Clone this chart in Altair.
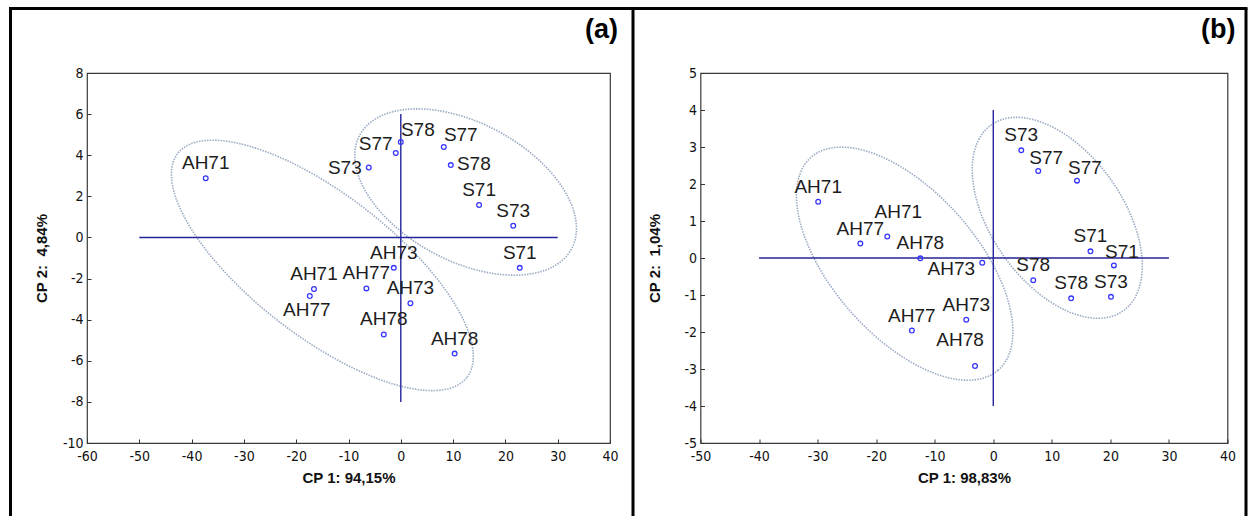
import altair as alt
import numpy as np
import pandas as pd

# ---------------- data: panel (a) ----------------
a_labels = ["AH71", "S78", "S77", "S73", "S77", "S78", "S71", "S73", "S71",
            "AH73", "AH77", "AH71", "AH77", "AH73", "AH78", "AH78"]
a_x = [-37.3, 0.0, -0.96, -6.12, 8.22, 9.56, 14.97, 21.5, 22.75,
       -1.34, -6.58, -16.6, -17.4, 1.84, -3.25, 10.3]
a_y = [2.88, 4.64, 4.11, 3.40, 4.40, 3.52, 1.58, 0.57, -1.48,
       -1.48, -2.48, -2.51, -2.85, -3.20, -4.72, -5.65]
a_pos = ["t", "tr2", "tl", "l", "tr2", "r", "t", "t", "t",
         "t", "t", "t", "b", "t", "t", "t"]

# confidence ellipses (a): centre and two conjugate half-axes (data units)
a_ell_cx = [-15.0, 12.39]
a_ell_cy = [-1.36, 2.21]
a_ell_ux = [27.6, 20.2]
a_ell_uy = [-5.46, -2.79]
a_ell_vx = [-8.45, -6.41]
a_ell_vy = [-2.70, -2.93]

# centre cross (a)
a_hx = [-50, 30]
a_vy = [-8, 6]

# ---------------- data: panel (b) ----------------
b_labels = ["AH71", "AH71", "AH77", "AH78", "AH73", "AH73", "AH77", "AH78",
            "S73", "S77", "S77", "S71", "S71", "S78", "S78", "S73"]
b_x = [-29.9, -18.1, -22.7, -12.46, -1.88, -4.61, -13.9, -3.12,
       4.78, 7.68, 14.3, 16.6, 20.6, 6.83, 13.3, 20.1]
b_y = [1.52, 0.58, 0.39, -0.01, -0.13, -1.67, -1.96, -2.92,
       2.91, 2.35, 2.09, 0.18, -0.20, -0.60, -1.09, -1.05]
b_pos = ["t", "tr3", "t", "t", "l2", "t", "t", "tl2",
         "t", "tr", "tr", "t", "tr", "t", "t", "t"]

b_ell_cx = [-15.13, 10.93]
b_ell_cy = [-0.153, 1.086]
b_ell_ux = [15.95, 11.2]
b_ell_uy = [-2.88, -2.52]
b_ell_vx = [-9.34, -9.24]
b_ell_vy = [-1.276, -1.013]

b_hx = [-40, 30]
b_vy = [-4, 4]

# axes
a_xticks = list(range(-60, 41, 10))
a_yticks = list(range(-10, 9, 2))
b_xticks = list(range(-50, 41, 10))
b_yticks = list(range(-5, 6, 1))
a_xtitle = "CP 1: 94,15%"
a_ytitle = "CP 2:\u00a0 4,84%"
b_xtitle = "CP 1: 98,83%"
b_ytitle = "CP 2:\u00a0 1,04%"

# ---------------- styling ----------------
LABEL_OFFSETS = {
    "t": (0, -15), "tr": (8, -13), "tr2": (17, -12), "tr3": (11, -25),
    "tl": (-20, -9), "tl2": (-15, -26), "l": (-24, 0), "l2": (-31, 6),
    "r": (23, -1), "b": (-3, 14),
}
TICK_FONT = "DejaVu Sans Condensed, Liberation Sans Narrow, Arial Narrow, sans-serif"
FONT = "Liberation Sans"
H = 370
LABEL_EXPR = "datum.value < 0 ? '-' + abs(datum.value) : '' + datum.value"


def ellipse_df(cx, cy, ux, uy, vx, vy):
    t = np.linspace(0, 2 * np.pi, 241)
    parts = []
    for i in range(len(cx)):
        parts.append(pd.DataFrame({
            "x": cx[i] + ux[i] * np.cos(t) + vx[i] * np.sin(t),
            "y": cy[i] + uy[i] * np.cos(t) + vy[i] * np.sin(t),
            "e": i, "o": np.arange(len(t))}))
    return pd.concat(parts, ignore_index=True)


def panel(tag, W, labels, xs, ys, pos, ell, hx, vy, xdom, ydom,
          xticks, yticks, xtitle, ytitle, frame=False):
    xsc = alt.Scale(domain=xdom, nice=False, zero=False)
    ysc = alt.Scale(domain=ydom, nice=False, zero=False)
    xax = alt.Axis(values=xticks, title=xtitle, grid=False, domain=False,
                   ticks=True, tickSize=4, offset=-4, tickColor="#333",
                   labelFont=TICK_FONT, labelFontSize=14, labelColor="#111",
                   labelPadding=6, labelFlush=False, labelOverlap=False,
                   labelExpr=LABEL_EXPR, titleFont=FONT, titleFontSize=15,
                   titleFontWeight="bold", titleColor="#111",
                   titleX=W / 2, titleY=38, titleBaseline="middle",
                   titleAlign="center")
    yax = alt.Axis(values=yticks, title=ytitle, grid=False, domain=False,
                   ticks=True, tickSize=4, offset=-4, tickColor="#333",
                   labelFont=TICK_FONT, labelFontSize=14, labelColor="#111",
                   labelPadding=4, labelFlush=False, labelOverlap=False,
                   labelExpr=LABEL_EXPR, titleFont=FONT, titleFontSize=15,
                   titleFontWeight="bold", titleColor="#111",
                   titleX=-50, titleY=H / 2, titleAngle=270,
                   titleBaseline="middle", titleAlign="center")

    def X(f):
        return alt.X(f, scale=xsc, axis=xax)

    def Y(f):
        return alt.Y(f, scale=ysc, axis=yax)

    pts = pd.DataFrame({"x": xs, "y": ys, "lab": labels, "pos": pos})
    edf = ellipse_df(*ell)

    ellipses = alt.Chart(edf).mark_line(
        color="#9aabc4", strokeWidth=1.6, strokeDash=[1.5, 1.2]
    ).encode(x=X("x:Q"), y=Y("y:Q"), detail="e:N", order="o:Q")

    cross_h = alt.Chart(pd.DataFrame({"x": [hx[0]], "x2": [hx[1]], "y": [0]})).mark_rule(
        color="#23239a", strokeWidth=1.4).encode(x=X("x:Q"), x2="x2:Q", y=Y("y:Q"))
    cross_v = alt.Chart(pd.DataFrame({"y": [vy[0]], "y2": [vy[1]], "x": [0]})).mark_rule(
        color="#23239a", strokeWidth=1.4).encode(y=Y("y:Q"), y2="y2:Q", x=X("x:Q"))

    points = alt.Chart(pts).mark_point(
        shape="circle", filled=False, size=22, strokeWidth=1.3, color="#3535ff", opacity=1
    ).encode(x=X("x:Q"), y=Y("y:Q"))

    texts = []
    for p, (dx, dy) in LABEL_OFFSETS.items():
        if p in pos:
            texts.append(alt.Chart(pts).transform_filter(alt.datum.pos == p).mark_text(
                font=FONT, fontSize=19, color="#1c1c1c", dx=dx, dy=dy,
                align="center", baseline="middle"
            ).encode(x=X("x:Q"), y=Y("y:Q"), text="lab:N"))

    tagmark = alt.Chart(pd.DataFrame({"t": [tag]})).mark_text(
        font=FONT, fontSize=27, fontWeight="bold", color="black",
        align="right", baseline="middle"
    ).encode(text="t:N", x=alt.value(W + 8), y=alt.value(-43))

    layers = [ellipses, cross_h, cross_v, points] + texts + [tagmark]

    if frame:
        one = pd.DataFrame({"k": [0]})
        fr = dict(color="black", strokeWidth=3)
        layers += [
            alt.Chart(one).mark_rule(**fr).encode(x=alt.value(-76.5), y=alt.value(-64.5), y2=alt.value(443)),
            alt.Chart(one).mark_rule(**fr).encode(x=alt.value(-78), x2=alt.value(1160.5), y=alt.value(-64.5)),
            alt.Chart(one).mark_rule(**fr).encode(x=alt.value(546), y=alt.value(-64.5), y2=alt.value(443)),
            alt.Chart(one).mark_rule(**fr).encode(x=alt.value(1159), y=alt.value(-64.5), y2=alt.value(443)),
        ]

    return alt.layer(*layers).properties(width=W, height=H)


pa = panel("(a)", 523, a_labels, a_x, a_y, a_pos,
           (a_ell_cx, a_ell_cy, a_ell_ux, a_ell_uy, a_ell_vx, a_ell_vy),
           a_hx, a_vy, [-60, 40], [-10, 8], a_xticks, a_yticks,
           a_xtitle, a_ytitle, frame=True)
pb = panel("(b)", 527, b_labels, b_x, b_y, b_pos,
           (b_ell_cx, b_ell_cy, b_ell_ux, b_ell_uy, b_ell_vx, b_ell_vy),
           b_hx, b_vy, [-50, 40], [-5, 5], b_xticks, b_yticks,
           b_xtitle, b_ytitle)

chart = alt.hconcat(pa, pb, spacing=90.5, bounds="flush").properties(
    padding={"left": 6, "top": 6, "right": 0, "bottom": 0},
    background="white"
).configure_view(stroke="#3a3a3a", strokeWidth=1.2)

chart.save("out.html", embed_options={"renderer": "svg", "actions": False})
